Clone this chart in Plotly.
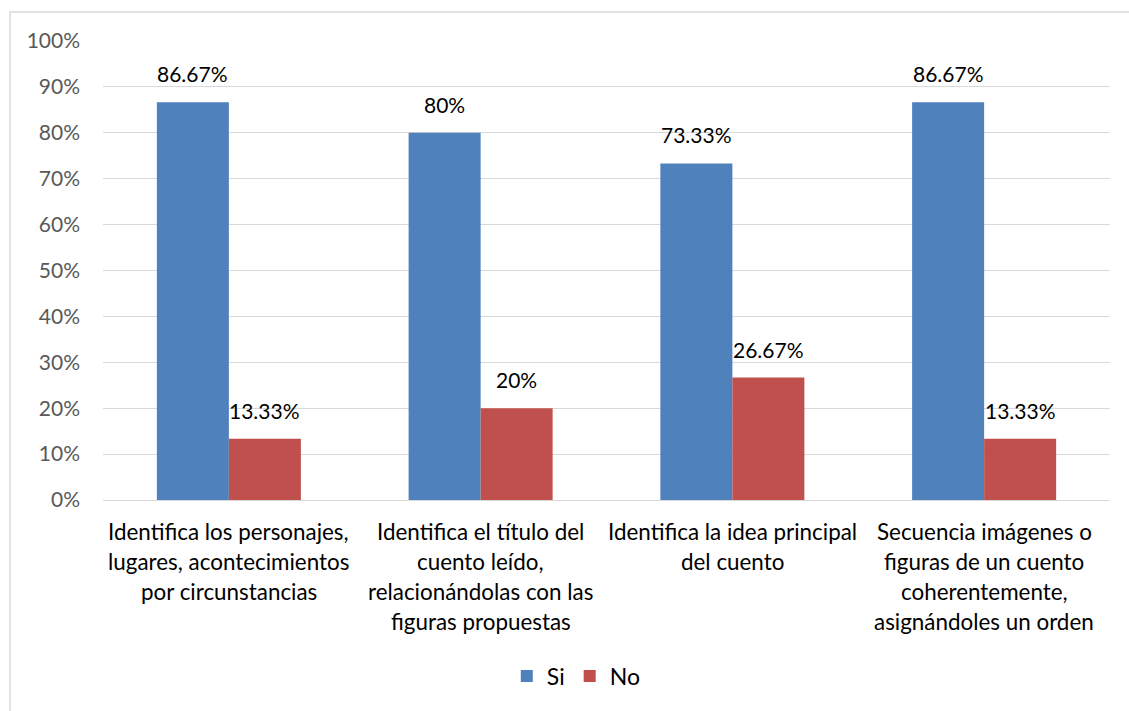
import plotly.graph_objects as go

categories = [
    "Identifica los personajes,<br>lugares, acontecimientos<br>por circunstancias",
    "Identifica el título del<br>cuento leído,<br>relacionándolas con las<br>figuras propuestas",
    "Identifica la idea principal<br>del cuento",
    "Secuencia imágenes o<br>figuras de un cuento<br>coherentemente,<br>asignándoles un orden",
]
si_values = [86.67, 80, 73.33, 86.67]
no_values = [13.33, 20, 26.67, 13.33]
si_labels = ["86.67%", "80%", "73.33%", "86.67%"]
no_labels = ["13.33%", "20%", "26.67%", "13.33%"]
tick_vals = [0, 10, 20, 30, 40, 50, 60, 70, 80, 90, 100]
tick_text = ["0%", "10%", "20%", "30%", "40%", "50%", "60%", "70%", "80%", "90%", "100%"]

FONT = "Lato, Open Sans, sans-serif"
L, R, T, B = 103, 19, 41, 211
PH = 711 - T - B

fig = go.Figure()
fig.add_trace(go.Bar(name="Si", x=categories, y=si_values, marker_color="#4F81BD",
                     marker_line_width=0))
fig.add_trace(go.Bar(name="No", x=categories, y=no_values, marker_color="#C0504D",
                     marker_line_width=0))

# data labels above bars
for vals, labs, dx in [(si_values, si_labels, -36), (no_values, no_labels, 36)]:
    for c, v, t in zip(categories, vals, labs):
        fig.add_annotation(x=c, y=v, xref="x", yref="y", text=t, showarrow=False,
                           xshift=dx, yshift=14, yanchor="bottom",
                           font=dict(size=21, color="#000000", family=FONT))

# category labels (one annotation per line for Excel-like line spacing)
for c in categories:
    for i, line in enumerate(c.split("<br>")):
        ypx = 531 + 30 * i
        fig.add_annotation(x=c, y=-(ypx - (711 - B)) / PH, xref="x", yref="paper",
                           text=line, showarrow=False, yanchor="middle",
                           font=dict(size=22.4, color="#000000", family=FONT))

fig.update_layout(
    width=1129, height=711,
    margin=dict(l=L, r=R, t=T, b=B),
    barmode="group", bargap=0.428, bargroupgap=0,
    plot_bgcolor="white", paper_bgcolor="white",
    font=dict(family=FONT, color="#000000"),
    legend=dict(orientation="h", x=0.47, xanchor="center",
                y=-(676 - (711 - B)) / PH, yanchor="middle",
                font=dict(size=23, color="#000000", family=FONT),
                traceorder="normal"),
    showlegend=True,
)
fig.update_yaxes(range=[0, 100], tickvals=tick_vals, ticktext=tick_text,
                 showgrid=True, gridcolor="#D9D9D9", gridwidth=1,
                 zeroline=False, showline=False, ticks="",
                 tickfont=dict(size=21, color="#595959", family=FONT),
                 ticklabelstandoff=22)
fig.update_xaxes(showline=True, linecolor="#D9D9D9", linewidth=1, ticks="",
                 showticklabels=False)

# outer chart border (light grey)
fig.add_shape(type="rect", xref="paper", yref="paper",
              x0=(10 - L) / (1129 - L - R), x1=1.2, y0=-1.0, y1=((711 - B) - 12) / PH,
              line=dict(color="#D9D9D9", width=1.5), fillcolor="rgba(0,0,0,0)",
              layer="below")

fig.write_html("out.html", config={"displayModeBar": False},
               post_script="document.body.style.margin='0';")
